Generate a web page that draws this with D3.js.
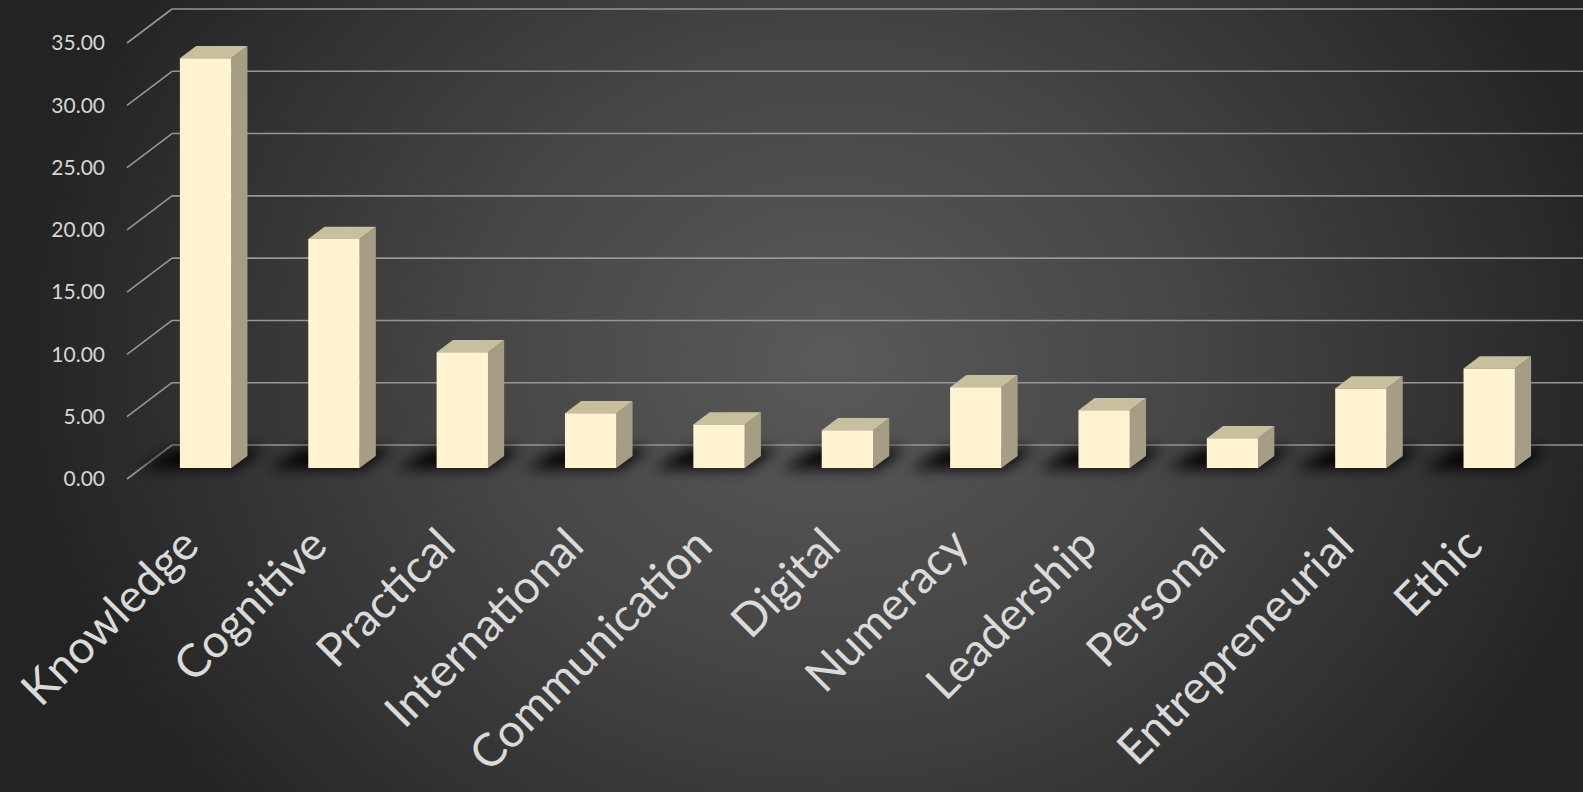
<!DOCTYPE html>
<html>
<head>
<meta charset="utf-8">
<script src="https://cdn.jsdelivr.net/npm/d3@7"></script>
<style>
  html, body { margin: 0; padding: 0; background: #2a2a2a; }
  svg { display: block; }
</style>
</head>
<body>
<svg id="chart" width="1583" height="792"></svg>
<script>
// ---- data ----
const categories = ["Knowledge", "Cognitive", "Practical", "International", "Communication",
  "Digital", "Numeracy", "Leadership", "Personal", "Entrepreneurial", "Ethic"];
const values = [32.9, 18.4, 9.3, 4.4, 3.5, 3.05, 6.5, 4.65, 2.4, 6.4, 8.0];
const tickValues = [0, 5, 10, 15, 20, 25, 30, 35];

// ---- layout ----
const W = 1583, H = 792;
const floorFrontY = 479;           // y of value 0 at the front of the floor
const depthDX = 45, depthDY = -34; // oblique depth vector (full depth)
const barFront = 0.32, barBack = 0.68;

const svg = d3.select("#chart");
const defs = svg.append("defs");

const bg = defs.append("radialGradient").attr("id", "bg")
  .attr("gradientUnits", "userSpaceOnUse")
  .attr("cx", 830).attr("cy", 360).attr("r", 820)
  .attr("gradientTransform", "translate(830,360) scale(1,0.85) translate(-830,-360)");
bg.append("stop").attr("offset", "0").attr("stop-color", "#5a5a5a");
bg.append("stop").attr("offset", "0.45").attr("stop-color", "#454545");
bg.append("stop").attr("offset", "1").attr("stop-color", "#232323");

defs.append("filter").attr("id", "blur").attr("x", "-50%").attr("y", "-100%")
  .attr("width", "200%").attr("height", "300%")
  .append("feGaussianBlur").attr("stdDeviation", 7);

svg.append("rect").attr("width", W).attr("height", H).attr("fill", "url(#bg)");

const x = d3.scaleBand().domain(categories).range([127, 1539])
  .paddingInner(0.6).paddingOuter(0.3);
const y = d3.scaleLinear().domain([0, 35]).range([0, 436]);

// projection: x at depth 0, value, depth fraction
function proj(px, v, d) {
  return [px + d * depthDX, floorFrontY - y(v) + d * depthDY];
}

// ---- gridlines ----
const grid = svg.append("g").attr("stroke", "#969696").attr("stroke-width", 1.6).attr("fill", "none");
tickValues.forEach(v => {
  const a = proj(127, v, 0), b = proj(127, v, 1);
  grid.append("line").attr("x1", a[0]).attr("y1", a[1]).attr("x2", b[0]).attr("y2", b[1]);
  grid.append("line").attr("x1", b[0]).attr("y1", b[1]).attr("x2", W).attr("y2", b[1]);
});

// tick labels
svg.append("g").selectAll("text").data(tickValues).join("text")
  .attr("x", 105)
  .attr("y", v => proj(127, v, 0)[1])
  .attr("dy", "0.35em")
  .attr("text-anchor", "end")
  .attr("fill", "#d6d6d6")
  .attr("font-family", "Lato, 'Open Sans', sans-serif")
  .attr("font-size", 21)
  .text(v => d3.format(".2f")(v));

// ---- shadows ----
const shadows = svg.append("g").attr("filter", "url(#blur)");
categories.forEach((c, i) => {
  const x0 = x(c), bw = x.bandwidth();
  const p1 = proj(x0 - 40, 0, barFront - 0.02);
  const p2 = proj(x0 + bw + 4, 0, barFront - 0.02);
  const p3 = proj(x0 + bw + 8, 0, barBack + 0.22);
  const p4 = proj(x0 - 30, 0, barBack + 0.22);
  shadows.append("polygon")
    .attr("points", [p1, p2, p3, p4].map(p => p.join(",")).join(" "))
    .attr("fill", "#000").attr("opacity", 0.95);
});

// ---- bars ----
const bars = svg.append("g");
categories.forEach((c, i) => {
  const v = values[i];
  const x0 = x(c), x1 = x(c) + x.bandwidth();
  const fbl = proj(x0, 0, barFront), fbr = proj(x1, 0, barFront);
  const ftl = proj(x0, v, barFront), ftr = proj(x1, v, barFront);
  const bbr = proj(x1, 0, barBack), btr = proj(x1, v, barBack), btl = proj(x0, v, barBack);
  const g = bars.append("g");
  g.append("polygon").attr("points", [fbr, bbr, btr, ftr].map(p => p.join(",")).join(" "))
    .attr("fill", "#a69e84");
  g.append("polygon").attr("points", [ftl, ftr, btr, btl].map(p => p.join(",")).join(" "))
    .attr("fill", "#c8bf9f");
  g.append("polygon").attr("points", [fbl, fbr, ftr, ftl].map(p => p.join(",")).join(" "))
    .attr("fill", "#fff3d2");
});

// ---- category labels ----
svg.append("g").selectAll("text").data(categories).join("text")
  .attr("transform", c => `translate(${x(c) + x.bandwidth() / 2 + 10},548) rotate(-45)`)
  .attr("text-anchor", "end")
  .attr("fill", "#dadada")
  .attr("font-family", "Lato, 'Open Sans', sans-serif")
  .attr("font-size", 46)
  .text(c => c);
</script>
</body>
</html>
